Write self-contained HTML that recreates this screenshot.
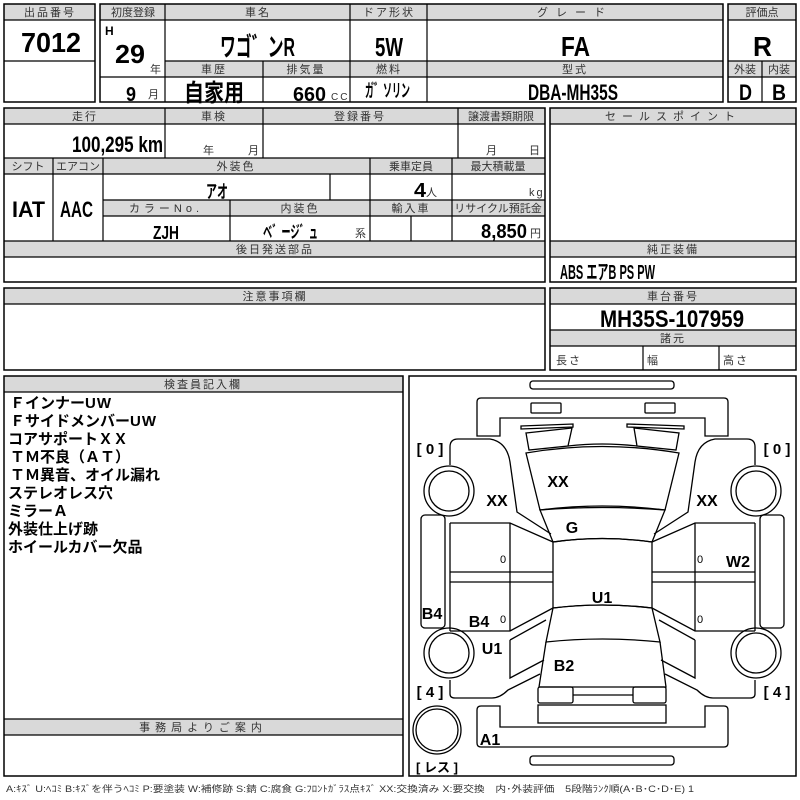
<!DOCTYPE html>
<html><head><meta charset="utf-8"><style>
body{margin:0;background:#fff;}
svg{display:block;}
.h{fill:#d9d9d9;}
.b{fill:none;stroke:#000;stroke-width:1.5;}
.l{stroke:#000;stroke-width:1.2;}
text{font-family:"Liberation Sans","Noto Sans CJK JP",sans-serif;}
.t{font-size:11px;fill:#333;letter-spacing:2px;}
.v{font-weight:bold;fill:#000;}
.k{font-weight:bold;font-size:15px;}
.d{fill:none;stroke:#000;stroke-width:1.3;}
</style></head><body>
<svg width="800" height="800" viewBox="0 0 800 800" xmlns="http://www.w3.org/2000/svg">
<rect class="h" x="4" y="4" width="91" height="16"/>
<rect class="h" x="100" y="4" width="623" height="16"/>
<rect class="h" x="165" y="61" width="558" height="16"/>
<rect class="h" x="728" y="4" width="68" height="16"/>
<rect class="h" x="728" y="61" width="68" height="16"/>
<rect class="h" x="4" y="108" width="541" height="16"/>
<rect class="h" x="4" y="158" width="541" height="16"/>
<rect class="h" x="103" y="200" width="442" height="16"/>
<rect class="h" x="4" y="241" width="541" height="16"/>
<rect class="h" x="550" y="108" width="246" height="16"/>
<rect class="h" x="550" y="241" width="246" height="16"/>
<rect class="h" x="4" y="288" width="541" height="16"/>
<rect class="h" x="550" y="288" width="246" height="16"/>
<rect class="h" x="550" y="330" width="246" height="16"/>
<rect class="h" x="4" y="376" width="399" height="16"/>
<rect class="h" x="4" y="719" width="399" height="16"/>

<rect class="b" x="4" y="4" width="91" height="98"/>
<line class="l" x1="4" y1="20" x2="95" y2="20"/><line class="l" x1="4" y1="61" x2="95" y2="61"/>
<rect class="b" x="100" y="4" width="623" height="98"/>
<line class="l" x1="100" y1="20" x2="723" y2="20"/>
<line class="l" x1="165" y1="61" x2="723" y2="61"/>
<line class="l" x1="100" y1="77" x2="723" y2="77"/>
<line class="l" x1="165" y1="4" x2="165" y2="102"/>
<line class="l" x1="350" y1="4" x2="350" y2="102"/>
<line class="l" x1="427" y1="4" x2="427" y2="102"/>
<line class="l" x1="263" y1="61" x2="263" y2="102"/>
<rect class="b" x="728" y="4" width="68" height="98"/>
<line class="l" x1="728" y1="20" x2="796" y2="20"/>
<line class="l" x1="728" y1="61" x2="796" y2="61"/>
<line class="l" x1="728" y1="77" x2="796" y2="77"/>
<line class="l" x1="762" y1="61" x2="762" y2="102"/>

<rect class="b" x="4" y="108" width="541" height="174"/>
<line class="l" x1="4" y1="124" x2="545" y2="124"/>
<line class="l" x1="4" y1="158" x2="545" y2="158"/>
<line class="l" x1="4" y1="174" x2="545" y2="174"/>
<line class="l" x1="103" y1="200" x2="545" y2="200"/>
<line class="l" x1="103" y1="216" x2="545" y2="216"/>
<line class="l" x1="4" y1="241" x2="545" y2="241"/>
<line class="l" x1="4" y1="257" x2="545" y2="257"/>
<line class="l" x1="165" y1="108" x2="165" y2="158"/>
<line class="l" x1="263" y1="108" x2="263" y2="158"/>
<line class="l" x1="458" y1="108" x2="458" y2="158"/>
<line class="l" x1="53" y1="158" x2="53" y2="241"/>
<line class="l" x1="103" y1="158" x2="103" y2="241"/>
<line class="l" x1="370" y1="158" x2="370" y2="241"/>
<line class="l" x1="452" y1="158" x2="452" y2="241"/>
<line class="l" x1="330" y1="174" x2="330" y2="200"/>
<line class="l" x1="230" y1="200" x2="230" y2="241"/>
<line class="l" x1="411" y1="216" x2="411" y2="241"/>

<rect class="b" x="550" y="108" width="246" height="174"/>
<line class="l" x1="550" y1="124" x2="796" y2="124"/>
<line class="l" x1="550" y1="241" x2="796" y2="241"/>
<line class="l" x1="550" y1="257" x2="796" y2="257"/>

<rect class="b" x="4" y="288" width="541" height="82"/>
<line class="l" x1="4" y1="304" x2="545" y2="304"/>
<rect class="b" x="550" y="288" width="246" height="82"/>
<line class="l" x1="550" y1="304" x2="796" y2="304"/>
<line class="l" x1="550" y1="330" x2="796" y2="330"/>
<line class="l" x1="550" y1="346" x2="796" y2="346"/>
<line class="l" x1="643" y1="346" x2="643" y2="370"/>
<line class="l" x1="719" y1="346" x2="719" y2="370"/>

<rect class="b" x="4" y="376" width="399" height="400"/>
<line class="l" x1="4" y1="392" x2="403" y2="392"/>
<line class="l" x1="4" y1="719" x2="403" y2="719"/>
<line class="l" x1="4" y1="735" x2="403" y2="735"/>
<rect class="b" x="409" y="376" width="387" height="400"/>

<g class="t" text-anchor="middle">
<text x="50" y="16">出品番号</text>
<text x="133" y="16" letter-spacing="0">初度登録</text>
<text x="258" y="16">車名</text>
<text x="389" y="16">ドア形状</text>
<text x="575" y="16" letter-spacing="8">グレード</text>
<text x="762" y="16" letter-spacing="0">評価点</text>
<text x="214" y="73">車歴</text>
<text x="306" y="73">排気量</text>
<text x="389" y="73">燃料</text>
<text x="575" y="73">型式</text>
<text x="745" y="73" letter-spacing="0">外装</text>
<text x="779" y="73" letter-spacing="0">内装</text>
<text x="85" y="120">走行</text>
<text x="214" y="120">車検</text>
<text x="360" y="120">登録番号</text>
<text x="501" y="120" letter-spacing="0">譲渡書類期限</text>
<text x="28" y="170" letter-spacing="0">シフト</text>
<text x="78" y="170" letter-spacing="0">エアコン</text>
<text x="236" y="170">外装色</text>
<text x="411" y="170" letter-spacing="0">乗車定員</text>
<text x="498" y="170" letter-spacing="0">最大積載量</text>
<text x="166" y="212" letter-spacing="4">カラーNo.</text>
<text x="300" y="212">内装色</text>
<text x="411" y="212">輸入車</text>
<text x="498" y="212" letter-spacing="0">リサイクル預託金</text>
<text x="275" y="253">後日発送部品</text>
<text x="673" y="120" letter-spacing="6">セールスポイント</text>
<text x="673" y="253">純正装備</text>
<text x="275" y="300">注意事項欄</text>
<text x="673" y="300">車台番号</text>
<text x="673" y="342">諸元</text>
<text x="203" y="388">検査員記入欄</text>
<text x="203" y="731" letter-spacing="5">事務局よりご案内</text>
</g>
<g class="t" letter-spacing="0">
<text x="556" y="364">長さ</text><text x="647" y="364">幅</text><text x="723" y="364">高さ</text>
<text x="203" y="154">年</text><text x="248" y="154">月</text>
<text x="486" y="154">月</text><text x="529" y="154">日</text>
<text x="150" y="73">年</text><text x="148" y="98">月</text>
<text x="331" y="100" font-size="10">CC</text>
<text x="426" y="196">人</text><text x="529" y="196">kg</text>
<text x="355" y="237">系</text><text x="530" y="237">円</text>
</g>

<g class="v">
<text x="21" y="52" font-size="28" textLength="60" lengthAdjust="spacingAndGlyphs">7012</text>
<text x="220" y="56" font-size="26" textLength="75" lengthAdjust="spacingAndGlyphs">ワゴ゛ンR</text>
<text x="375" y="56" font-size="26" textLength="28" lengthAdjust="spacingAndGlyphs">5W</text>
<text x="561" y="56" font-size="28" textLength="29" lengthAdjust="spacingAndGlyphs">FA</text>
<text x="753" y="56" font-size="28" textLength="19" lengthAdjust="spacingAndGlyphs">R</text>
<text x="184" y="101" font-size="24" textLength="60" lengthAdjust="spacingAndGlyphs">自家用</text>
<text x="528" y="100" font-size="22" textLength="90" lengthAdjust="spacingAndGlyphs">DBA-MH35S</text>
<text x="739" y="100" font-size="22" textLength="13" lengthAdjust="spacingAndGlyphs">D</text>
<text x="772" y="100" font-size="22" textLength="14" lengthAdjust="spacingAndGlyphs">B</text>
<text x="12" y="217" font-size="22" textLength="33" lengthAdjust="spacingAndGlyphs">IAT</text>
<text x="60" y="217" font-size="22" textLength="33" lengthAdjust="spacingAndGlyphs">AAC</text>
<text x="206" y="198" font-size="18" textLength="22" lengthAdjust="spacingAndGlyphs">アオ</text>
<text x="153" y="239" font-size="18" textLength="26" lengthAdjust="spacingAndGlyphs">ZJH</text>
<text x="263" y="238" font-size="17" textLength="55" lengthAdjust="spacingAndGlyphs">ベ゛ージ゛ュ</text>
<text x="600" y="327" font-size="24" textLength="144" lengthAdjust="spacingAndGlyphs">MH35S-107959</text>
<text x="105" y="35" font-size="12">H</text>
<text x="115" y="63" font-size="26" textLength="30" lengthAdjust="spacingAndGlyphs">29</text>
<text x="126" y="101" font-size="20" textLength="10" lengthAdjust="spacingAndGlyphs">9</text>
<text x="293" y="101" font-size="20" textLength="33" lengthAdjust="spacingAndGlyphs">660</text>
<text x="365" y="97" font-size="18" textLength="45" lengthAdjust="spacingAndGlyphs">ガ゛ソリン</text>
<text x="72" y="152" font-size="22" textLength="91" lengthAdjust="spacingAndGlyphs">100,295 km</text>
<text x="414" y="197" font-size="20" textLength="12" lengthAdjust="spacingAndGlyphs">4</text>
<text x="481" y="238" font-size="20" textLength="46" lengthAdjust="spacingAndGlyphs">8,850</text>
<text x="560" y="279" font-size="20" textLength="95" lengthAdjust="spacingAndGlyphs">ABS エアB PS PW</text>
</g>

<g class="k">
<text x="10" y="408">Ｆインナー<tspan letter-spacing="1">UW</tspan></text>
<text x="10" y="426">Ｆサイドメンバー<tspan letter-spacing="1">UW</tspan></text>
<text x="8" y="444">コアサポートＸＸ</text>
<text x="10" y="462">ＴＭ不良（ＡＴ）</text>
<text x="10" y="480">ＴＭ異音、オイル漏れ</text>
<text x="8" y="498">ステレオレス穴</text>
<text x="8" y="516">ミラーＡ</text>
<text x="8" y="534">外装仕上げ跡</text>
<text x="8" y="552">ホイールカバー欠品</text>
</g>

<g class="d">
<rect x="530" y="381" width="144" height="8" rx="3"/>
<path d="M477,436 L477,402 Q477,398 481,398 L724,398 Q728,398 728,402 L728,436 L705,436 L705,418 L500,418 L500,436 Z"/>
<rect x="531" y="403" width="30" height="10" rx="1"/>
<rect x="645" y="403" width="30" height="10" rx="1"/>
<path d="M521,426 L573,424 L573,427 L521,429 Z"/>
<path d="M627,424 L684,426 L684,429 L627,427 Z"/>
<path d="M526,433 L572,428 L568,446 L529,450 Z"/>
<path d="M634,428 L679,433 L676,450 L637,446 Z"/>
<path d="M568,446 Q602,442 637,446"/>
<path d="M526,453 Q602,440 679,453 L665,510 Q602,502 540,510 Z"/>
<path d="M540,510 Q602,505 665,510 L652,542 Q602,535 553,542 Z" />
<path d="M553,542 Q602,535 652,542 L652,608 Q602,602 553,608 Z"/>
<path d="M553,608 Q602,602 652,608 L660,642 Q602,636 546,642 Z"/>
<path d="M546,642 L539,687 L666,687 L660,642"/>
<rect x="538" y="687" width="35" height="16" rx="2"/>
<rect x="633" y="687" width="33" height="16" rx="2"/>
<line x1="573" y1="695" x2="633" y2="695"/>
<rect x="538" y="705" width="128" height="18"/>
<path d="M477,710 L477,743 Q477,747 481,747 L724,747 Q728,747 728,743 L728,710 Q728,706 724,706 L705,706 L705,727 L500,727 L500,706 L481,706 Q477,706 477,710 Z"/>
<rect x="530" y="756" width="144" height="9" rx="3"/>
<circle cx="437" cy="730" r="24"/><circle cx="437" cy="730" r="21"/>
<g id="side">
<path d="M450,465 L450,447 Q450,439 458,439 L490,439 Q507,442 510,462 L517,512 L551,534"/>
<path d="M450,523 L510,523 L553,542"/>
<line x1="510" y1="523" x2="510" y2="631"/>
<line x1="450" y1="523" x2="450" y2="631"/>
<line x1="450" y1="572" x2="553" y2="572"/>
<line x1="450" y1="582" x2="553" y2="582"/>
<path d="M450,631 L510,631 L553,608"/>
<path d="M510,640 L546,620 M510,640 L510,678 L544,660"/>
<path d="M450,680 L450,694 Q450,698 455,698 L492,698 Q500,698 508,690 L540,674"/>
<rect x="421" y="515" width="24" height="113" rx="4"/>
<circle cx="449" cy="491" r="25"/><circle cx="449" cy="491" r="20"/>
<circle cx="449" cy="653" r="25"/><circle cx="449" cy="653" r="20"/>
</g>
<use href="#side" transform="translate(1205,0) scale(-1,1)"/>
</g>
<g font-size="16" font-weight="bold" fill="#000">
<text x="497" y="506" text-anchor="middle">XX</text>
<text x="558" y="487" text-anchor="middle">XX</text>
<text x="707" y="506" text-anchor="middle">XX</text>
<text x="572" y="533" text-anchor="middle">G</text>
<text x="726" y="567" >W2</text>
<text x="602" y="603" text-anchor="middle">U1</text>
<text x="432" y="619" text-anchor="middle">B4</text>
<text x="479" y="627" text-anchor="middle">B4</text>
<text x="492" y="654" text-anchor="middle">U1</text>
<text x="564" y="671" text-anchor="middle">B2</text>
<text x="490" y="745" text-anchor="middle">A1</text>
<text x="430" y="454" text-anchor="middle" font-size="15">[ 0 ]</text>
<text x="777" y="454" text-anchor="middle" font-size="15">[ 0 ]</text>
<text x="430" y="697" text-anchor="middle" font-size="15">[ 4 ]</text>
<text x="777" y="697" text-anchor="middle" font-size="15">[ 4 ]</text>
<text x="437" y="772" text-anchor="middle" font-size="13">[ レス ]</text>
</g>
<g font-size="11" fill="#000">
<text x="503" y="563" text-anchor="middle">0</text><text x="700" y="563" text-anchor="middle">0</text>
<text x="503" y="623" text-anchor="middle">0</text><text x="700" y="623" text-anchor="middle">0</text>
</g>
<text x="6" y="792" font-size="9" fill="#333" textLength="688" lengthAdjust="spacingAndGlyphs">A:ｷｽﾞ U:ﾍｺﾐ B:ｷｽﾞを伴うﾍｺﾐ P:要塗装 W:補修跡 S:錆 C:腐食 G:ﾌﾛﾝﾄｶﾞﾗｽ点ｷｽﾞ XX:交換済み X:要交換　内･外装評価　5段階ﾗﾝｸ順(A･B･C･D･E) 1</text>
</svg>
</body></html>
